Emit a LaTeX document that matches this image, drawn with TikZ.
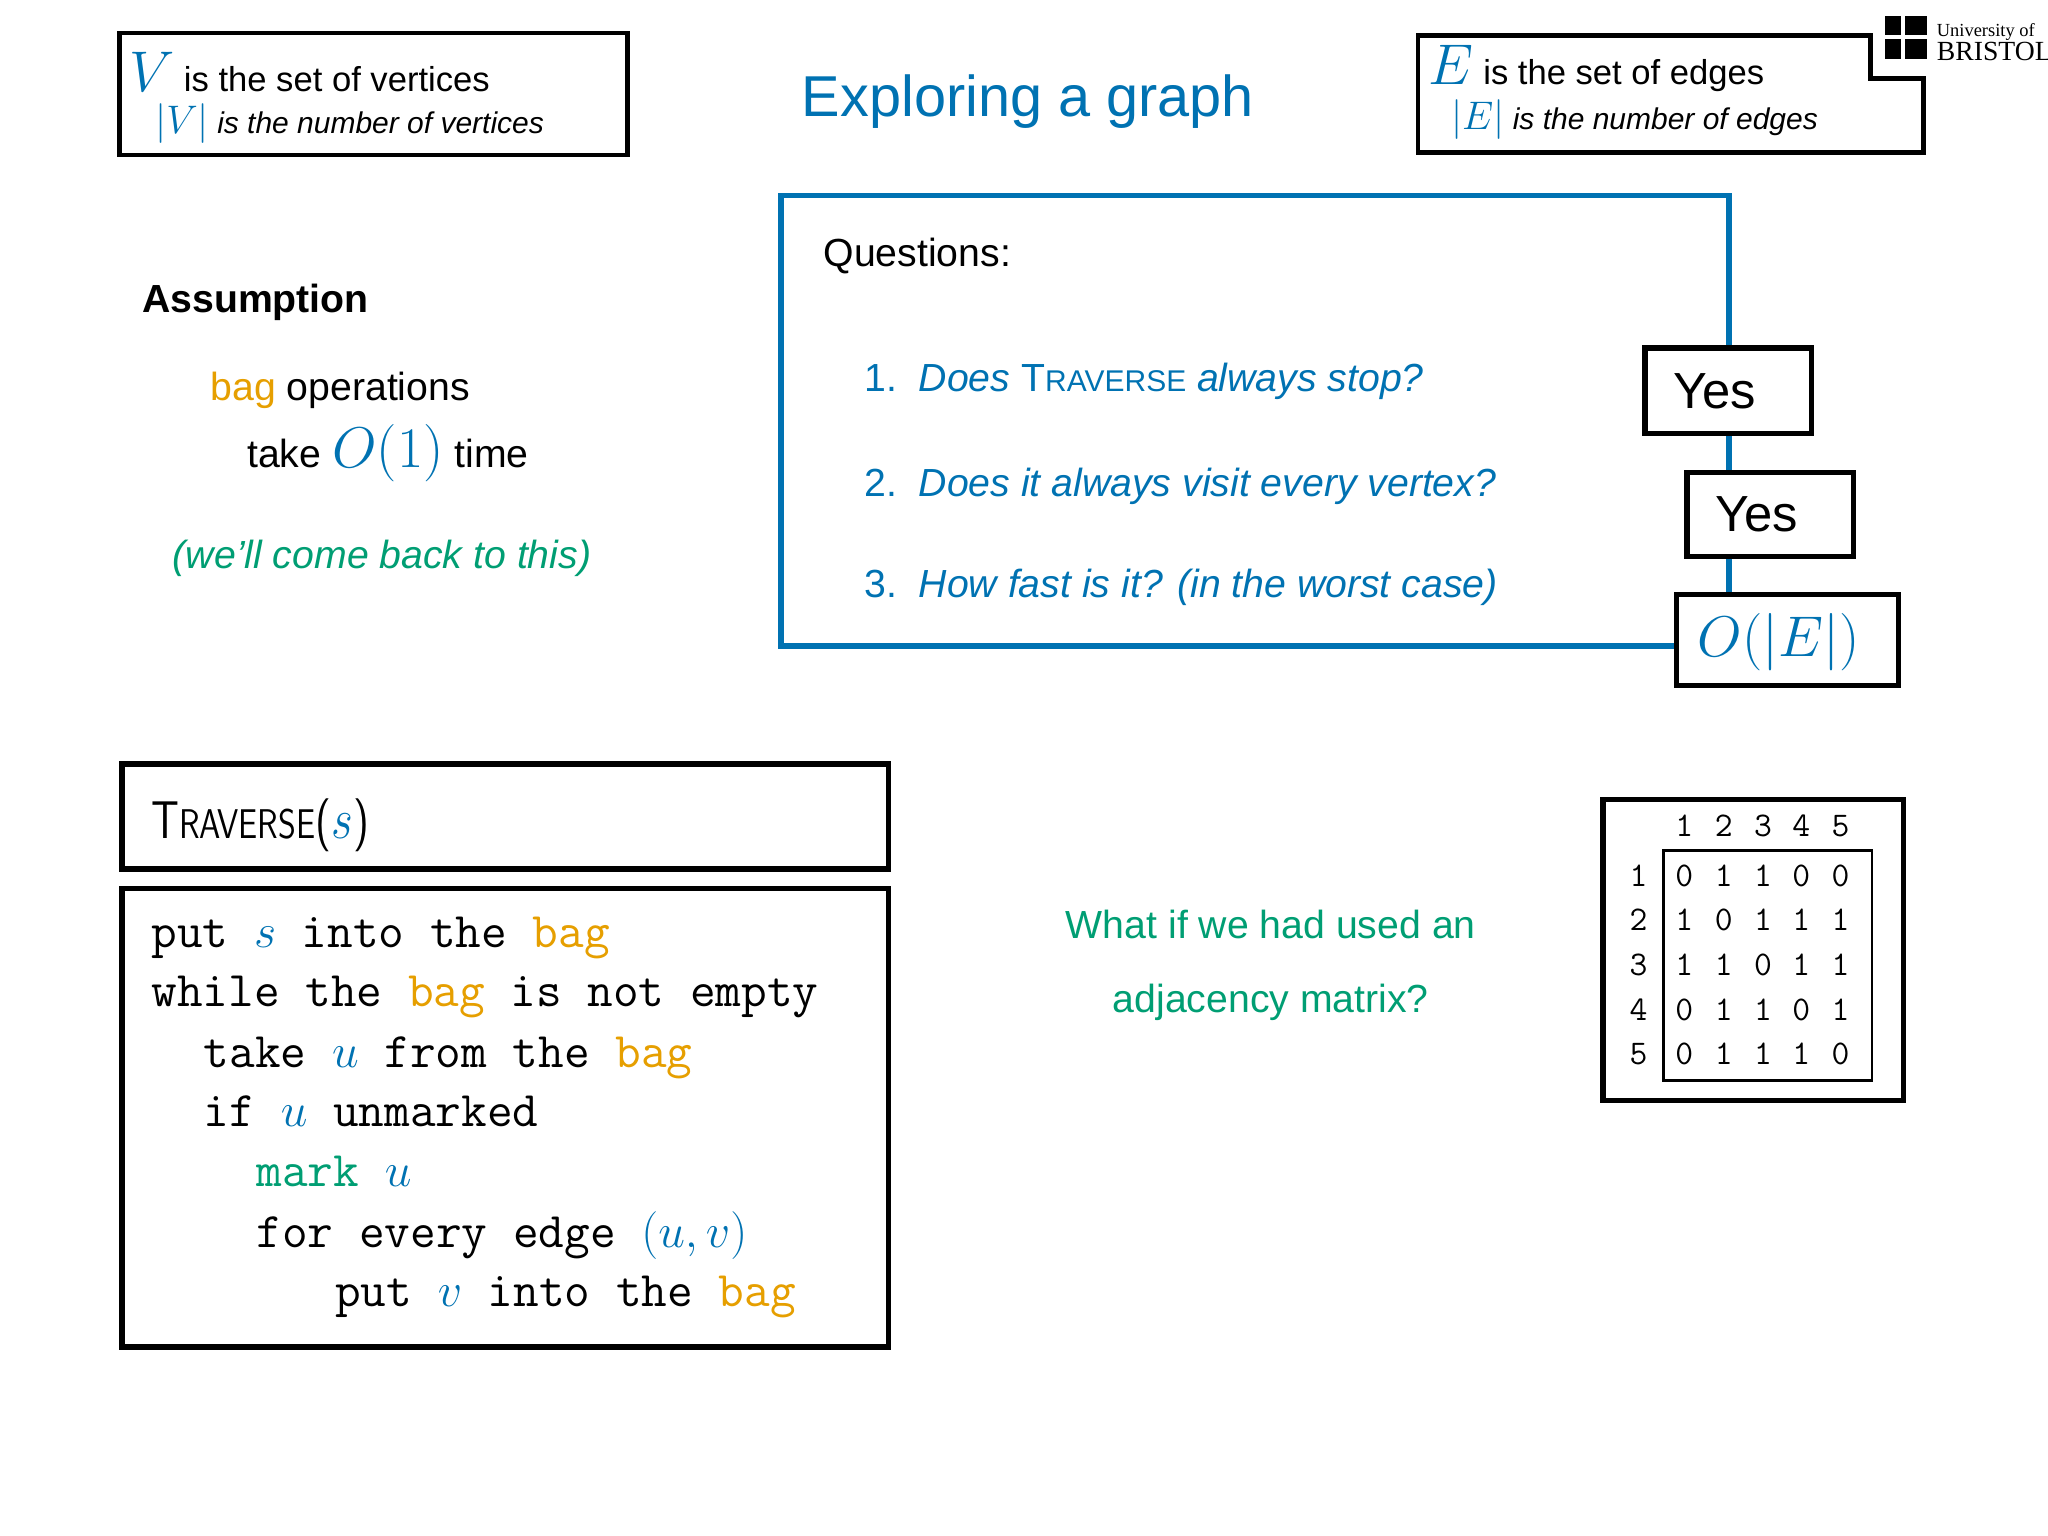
\documentclass[tikz,border=0pt]{standalone}
\usepackage{fontspec}
\setmainfont{Liberation Sans}
\setmonofont{Latin Modern Mono}
\newfontfamily\lmsans{Latin Modern Sans}
\newfontfamily\bristolfont{Liberation Serif}
\definecolor{myblue}{RGB}{0,114,178}
\definecolor{myorange}{RGB}{230,159,0}
\definecolor{mygreen}{RGB}{0,158,115}
\newcommand{\fs}[1]{\fontsize{#1}{#1}\selectfont}
\begin{document}
\begin{tikzpicture}[x=0.02cm,y=-0.02cm,
  bx/.style={draw=black,line width=2.3pt,fill=white},
  txt/.style={inner sep=0pt,anchor=base west},
  ctxt/.style={inner sep=0pt,anchor=base},
  code/.style={inner sep=0pt,anchor=base west,font=\ttfamily\fs{21.6}},
  mat/.style={inner sep=0pt,anchor=base,font=\ttfamily\fs{15}}]
\useasboundingbox (0,0) rectangle (1560,1170);
% V box
\draw[line width=2pt] (91,25) rectangle (478,118);
\node[txt] (v1) at (98,70) {\fs{15}\textcolor{myblue}{\fs{24}$V$}\ is the set of vertices};
\node[txt] (v2) at (118,102) {\fs{13}\textcolor{myblue}{\fs{17}$|V|$}\ \textit{is the number of vertices}};
% title
\node[ctxt,text=myblue] (title) at (783,89) {\fs{25}Exploring a graph};
% E box
\draw[line width=2pt] (1080,27) -- (1425,27) -- (1425,60) -- (1465,60) -- (1465,116) -- (1080,116) -- cycle;
\node[txt] (e1) at (1088,64) {\fs{15}\textcolor{myblue}{\fs{24}$E$}\ is the set of edges};
\node[txt] (e2) at (1105,99) {\fs{13}\textcolor{myblue}{\fs{17}$|E|$}\ \textit{is the number of edges}};
% logo
\fill (1436,12) rectangle (1448,27);
\fill (1451,12) rectangle (1468,27);
\fill (1436,30) rectangle (1448,45);
\fill (1451,30) rectangle (1468,45);
\node[txt] (logo1) at (1475,28) {\bristolfont\fs{8}University of};
\node[txt] (logo2) at (1475,46) {\bristolfont\fs{12}BRISTOL};
% assumption
\node[txt] (ass) at (108,238) {\fs{17}\textbf{Assumption}};
\node[txt] (bag) at (160,305) {\fs{17}\textcolor{myorange}{bag} operations};
\node[txt] (take) at (188,356) {\fs{17}take \textcolor{myblue}{\fs{24}$O(1)$} time};
\node[ctxt,text=mygreen] (back) at (291,433) {\fs{17}\textit{(we'll come back to this)}};
% questions
\draw[draw=myblue,line width=2.5pt] (595,149) rectangle (1317,492);
\node[txt] (q) at (627,203) {\fs{17}Questions:};
\node[txt,text=myblue] (q1) at (658,298) {\fs{17}1.\ \ \textit{Does} T{\fs{13}RAVERSE} \textit{always stop?}};
\node[txt,text=myblue] (q2) at (658,378) {\fs{17}2.\ \ \textit{Does it always visit every vertex?}};
\node[txt,text=myblue] (q3) at (658,455) {\fs{17}3.\ \ \textit{How fast is it? (in the worst case)}};
\draw[bx] (1253,265) rectangle (1380,330);
\node[ctxt] (yes1) at (1306,311) {\fs{22}Yes};
\draw[bx] (1285,360) rectangle (1412,424);
\node[ctxt] (yes2) at (1338,405) {\fs{22}Yes};
\draw[bx] (1277,453) rectangle (1446,522);
\node[ctxt,text=myblue] (oe) at (1355,500) {\fs{25}$O(|E|)$};
% traverse
\draw[bx] (93,582) rectangle (677,662);
\node[txt,xscale=0.82] (trav) at (115,639) {\lmsans\fs{23}T{\fs{18}RAVERSE}(\textcolor{myblue}{$s$})};
\draw[bx] (93,677) rectangle (677,1026);
\node[code] (c1) at (115,722) {put \textcolor{myblue}{$s$} into the \textcolor{myorange}{bag}};
\node[code] (c2) at (115,767) {while the \textcolor{myorange}{bag} is not empty};
\node[code] (c3) at (155,813) {take \textcolor{myblue}{$u$} from the \textcolor{myorange}{bag}};
\node[code] (c4) at (155,858) {if \textcolor{myblue}{$u$} unmarked};
\node[code] (c5) at (195,904) {\textcolor{mygreen}{mark} \textcolor{myblue}{$u$}};
\node[code] (c6) at (195,950) {for every edge \textcolor{myblue}{$(u,v)$}};
\node[code] (c7) at (255,995) {put \textcolor{myblue}{$v$} into the \textcolor{myorange}{bag}};
% what if
\node[ctxt,text=mygreen] (w1) at (968,715) {\fs{17}What if we had used an};
\node[ctxt,text=mygreen] (w2) at (968,771) {\fs{17}adjacency matrix?};
% matrix
\draw[bx] (1221,609) rectangle (1450,838);
\draw[line width=1.2pt] (1267,648) rectangle (1426,823);
\foreach \j/\x in {1/1283,2/1313,3/1343,4/1372,5/1402}
  \node[mat] (h\j) at (\x,637) {\j};
\foreach \i/\y/\r in {1/675/{0,1,1,0,0},2/709/{1,0,1,1,1},3/743/{1,1,0,1,1},4/777/{0,1,1,0,1},5/811/{0,1,1,1,0}}{
  \node[mat] (r\i) at (1248,\y) {\i};
  \foreach \v [count=\k] in \r {
    \pgfmathsetmacro{\xx}{1253+30*\k-(\k>3?1:0)}
    \node[mat] (m\i\k) at (\xx,\y) {\v};
  }
}
\end{tikzpicture}
\end{document}
